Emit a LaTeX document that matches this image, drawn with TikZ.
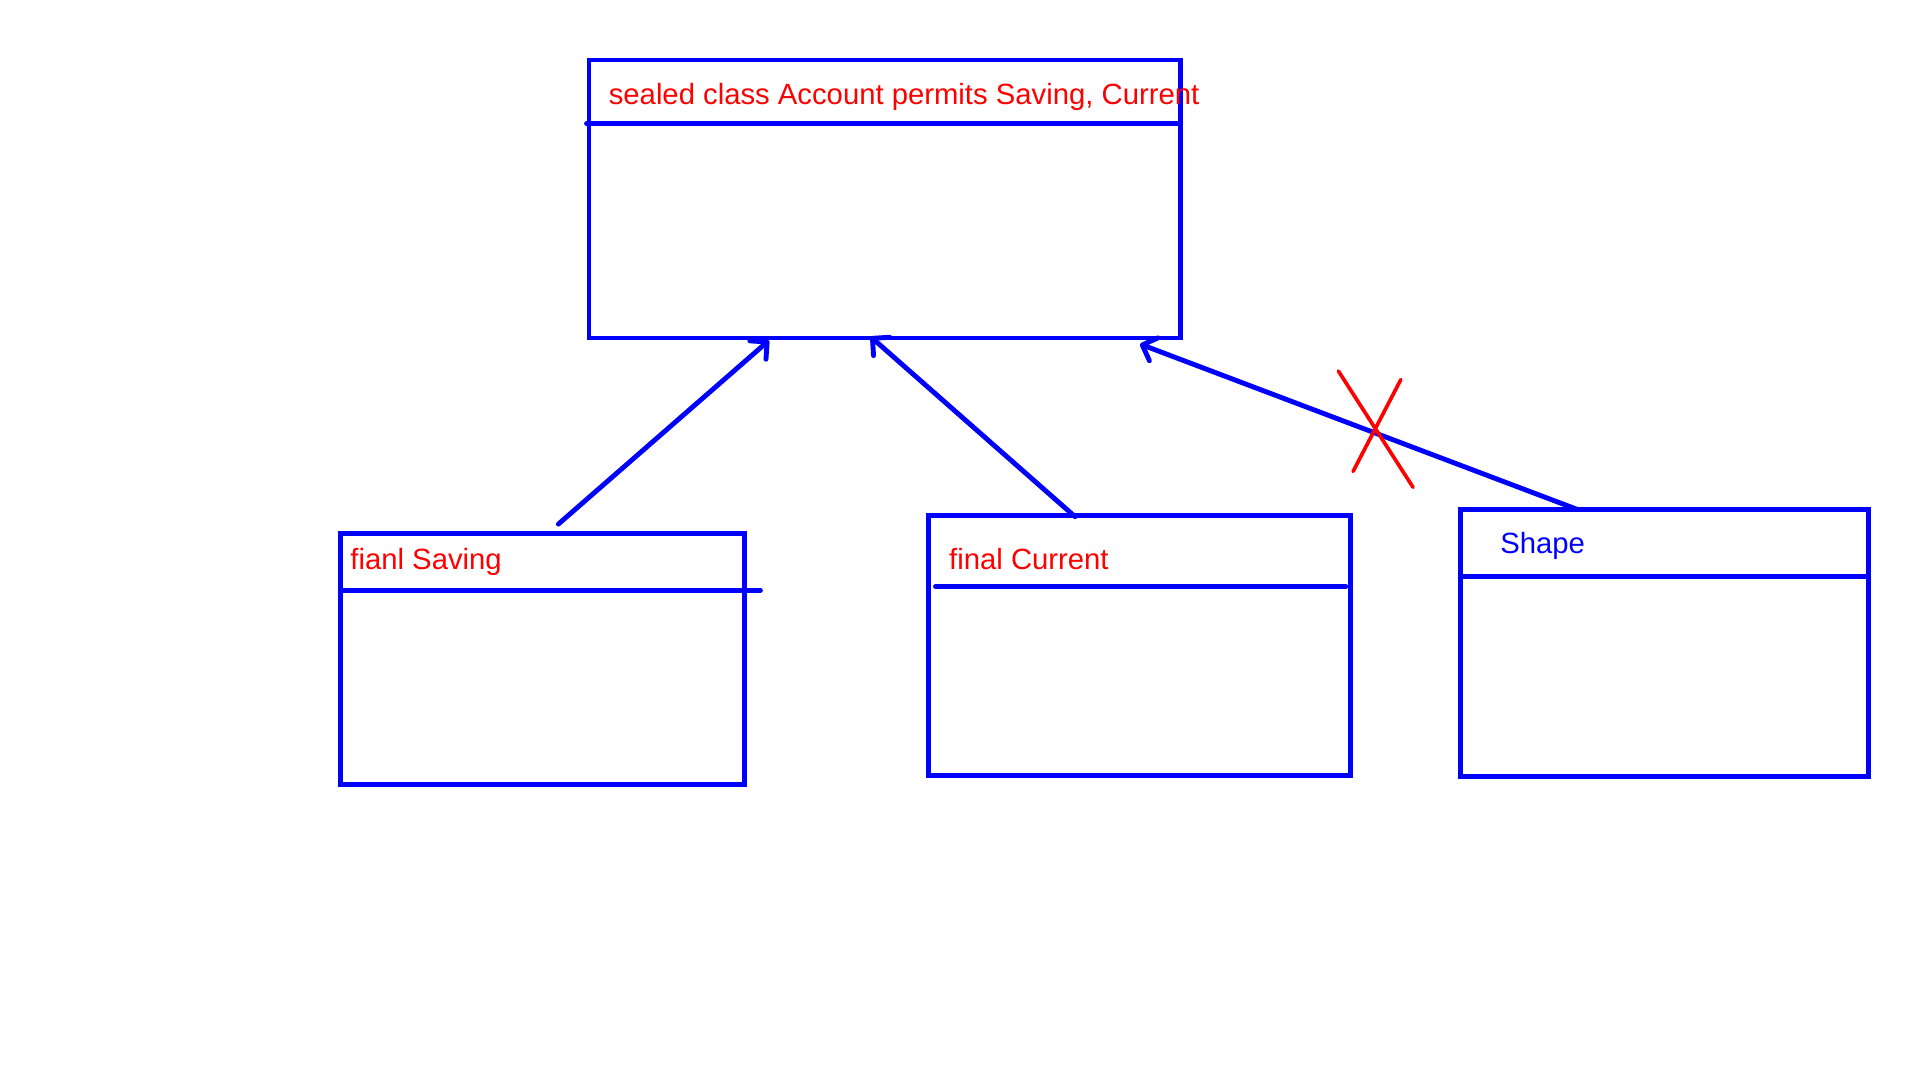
\documentclass[tikz,border=0pt]{standalone}
\usepackage{fontspec}
\setmainfont{Liberation Sans}
\usetikzlibrary{arrows.meta}
\definecolor{ublue}{RGB}{0,0,255}
\definecolor{ured}{RGB}{255,0,0}
\begin{document}
\begin{tikzpicture}[x=1pt,y=-1pt,
 box/.style={draw=ublue,line width=4pt,rectangle,inner sep=0pt,outer sep=0pt,anchor=north west},
 div/.style={draw=ublue,line width=4pt,line cap=round},
 lbl/.style={font=\fontsize{23.9}{28}\selectfont,anchor=base west,inner sep=0pt},
 inh/.style={draw=ublue,line width=4pt,line cap=round,-{Straight Barb[length=10pt,width=20pt,line width=4pt,round]}},
 cross/.style={draw=ured,line width=3pt,line cap=round}]
\path[use as bounding box] (0,0) rectangle (1568,882);
% boxes
\node[box,minimum width=483pt,minimum height=227pt] (acc) at (481,49) {};
\node[box,minimum width=330pt,minimum height=205pt] (sav) at (278,436) {};
\node[box,minimum width=345pt,minimum height=212pt] (cur) at (758,421) {};
\node[box,minimum width=333pt,minimum height=218pt] (shp) at (1193,416) {};
% dividers
\draw[div] ([xshift=-2pt,yshift=-52pt]acc.north west) -- ([yshift=-52pt]acc.north east);
\draw[div] ([yshift=-46pt]sav.north west) -- ([xshift=13pt,yshift=-46pt]sav.north east);
\draw[div] ([xshift=6pt,yshift=-58pt]cur.north west) -- ([xshift=-4pt,yshift=-58pt]cur.north east);
\draw[div] ([yshift=-55pt]shp.north west) -- ([yshift=-55pt]shp.north east);
% labels
\node[lbl,text=ured] (tacc) at (497,85) {sealed class Account permits Saving, Current};
\node[lbl,text=ured] (tsav) at (286,465) {fianl Saving};
\node[lbl,text=ured] (tcur) at (775,465) {final Current};
\node[lbl,text=ublue] (tshp) at (1225,452) {Shape};
% connectors
\coordinate (s1) at (456,428);
\coordinate (e1) at (628,278);
\coordinate (s2) at (878,422);
\coordinate (e2) at (711,275);
\coordinate (s3) at (1288,416);
\coordinate (e3) at (931,281);
\draw[inh] (s1) -- (e1);
\draw[inh] (s2) -- (e2);
\draw[inh] (s3) -- (e3);
% red cross
\coordinate (x1) at (1093,303);
\coordinate (x2) at (1154,398);
\coordinate (x3) at (1144,310);
\coordinate (x4) at (1105,385);
\draw[cross] (x1) -- (x2);
\draw[cross] (x3) -- (x4);
\end{tikzpicture}
\end{document}
